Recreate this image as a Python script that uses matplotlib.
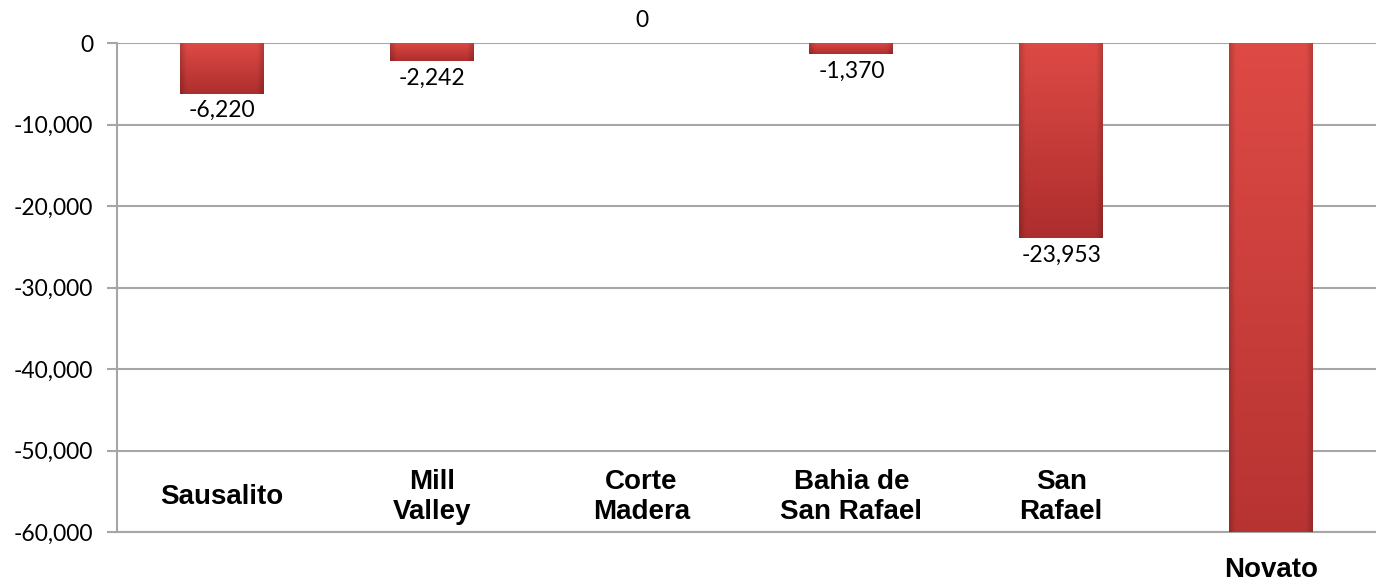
import matplotlib
matplotlib.use("Agg")
import matplotlib.pyplot as plt
import numpy as np
from matplotlib.ticker import FuncFormatter

cities = ["Sausalito", "Mill\nValley", "Corte\nMadera", "Bahia de\nSan Rafael", "San\nRafael", "Novato"]
change = [-6220, -2242, 0, -1370, -23953, -75000]
show_label = [True, True, True, True, True, False]
yticks = [0, -10000, -20000, -30000, -40000, -50000, -60000]

num_font = ["Lato", "DejaVu Sans"]
cat_font = ["Liberation Sans", "DejaVu Sans"]

fig = plt.figure(figsize=(13.76, 5.84), dpi=100)
ax = fig.add_axes([0.085, 0.089, 0.915, 0.837])

x = list(range(len(cities)))
bars = ax.bar(x, change, width=0.4, color="#CC3B3A", linewidth=0, zorder=3)

# shaded fill for the bars (light top -> darker bottom, darker sides)
top = np.array([0.87, 0.29, 0.27])
bottom = np.array([0.68, 0.18, 0.18])
t = np.linspace(0, 1, 100)[:, None]
sx = np.linspace(-1, 1, 60)[None, :]
side = 1 - 0.18 * np.clip((np.abs(sx) - 0.85) / 0.15, 0, 1)
for b in bars:
    if b.get_height() == 0:
        b.set_visible(False)
        continue
    img = (top[None, None, :] * (1 - t[..., None]) + bottom[None, None, :] * t[..., None]) * side[..., None]
    x0, w = b.get_x(), b.get_width()
    y0, h = b.get_y(), b.get_height()
    im = ax.imshow(np.clip(img, 0, 1), extent=[x0, x0 + w, y0 + h, y0], aspect="auto",
                   origin="upper", zorder=3, interpolation="bilinear")
    im.set_clip_path(ax.patch)
    b.set_facecolor("none")

ax.set_xlim(-0.5, len(cities) - 0.5)
ax.set_ylim(-60000, 0)
ax.set_yticks(yticks)
ax.yaxis.set_major_formatter(FuncFormatter(lambda v, p: f"{v:,.0f}"))
ax.set_xticks([])
ax.grid(axis="y", color="#A6A6A6", linewidth=1.5, zorder=0)
ax.tick_params(axis="y", length=7, width=1.5, color="#A6A6A6", pad=10, labelsize=16.5)
for lab in ax.get_yticklabels():
    lab.set_fontfamily(num_font)

for s in ["top", "right"]:
    ax.spines[s].set_visible(False)
for s in ["left", "bottom"]:
    ax.spines[s].set_color("#A6A6A6")
    ax.spines[s].set_linewidth(1.5)

# value labels
for xi, v, show in zip(x, change, show_label):
    if not show:
        continue
    if v == 0:
        ax.annotate("0", (xi, v), xytext=(0, 16), textcoords="offset points",
                    ha="center", va="center", fontsize=16.5, family=num_font,
                    annotation_clip=False)
    else:
        ax.annotate(f"{v:,}", (xi, v), xytext=(0, -12), textcoords="offset points",
                    ha="center", va="center", fontsize=16.5, family=num_font, zorder=5)

# category labels
for xi, name in zip(x, cities):
    if name == "Novato":
        ax.text(xi, -64700, name, ha="center", va="center", fontsize=20,
                fontweight="bold", family=cat_font, clip_on=False)
    else:
        ax.text(xi, -55700, name, ha="center", va="center", fontsize=20,
                fontweight="bold", family=cat_font, linespacing=1.2)

fig.savefig("out.png", dpi=100)
